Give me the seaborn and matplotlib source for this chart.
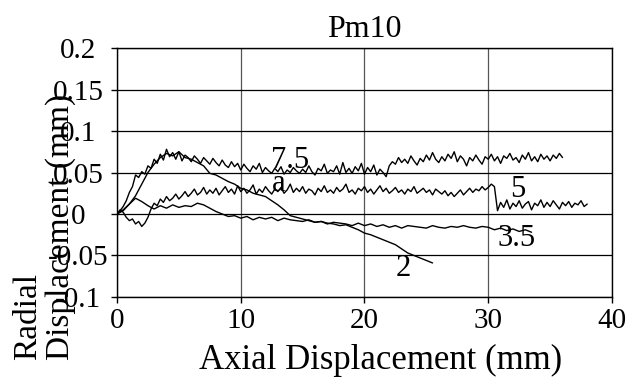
import numpy as np
import pandas as pd
import seaborn as sns
import matplotlib.pyplot as plt

# curves 7.5 and 5 read at x step 0.25 mm, curves 3.5 and 2 at 0.5 mm, from x = 0
y_75 = [0.000, 0.004, 0.009, 0.016, 0.026, 0.033, 0.047, 0.044, 0.051, 0.048,
        0.058, 0.055, 0.066, 0.061, 0.072, 0.065, 0.078, 0.069, 0.074, 0.066,
        0.075, 0.064, 0.071, 0.068, 0.063, 0.070, 0.066, 0.061, 0.068, 0.064,
        0.060, 0.067, 0.062, 0.058, 0.065, 0.059, 0.056, 0.063, 0.057, 0.061,
        0.053, 0.060, 0.055, 0.051, 0.058, 0.054, 0.061, 0.050, 0.056, 0.052,
        0.049, 0.055, 0.051, 0.057, 0.048, 0.053, 0.050, 0.056, 0.052, 0.049,
        0.054, 0.050, 0.058, 0.051, 0.047, 0.055, 0.052, 0.060, 0.049, 0.053,
        0.051, 0.058, 0.048, 0.062, 0.050, 0.055, 0.049, 0.057, 0.052, 0.061,
        0.048, 0.056, 0.051, 0.059, 0.047, 0.054, 0.050, 0.045, 0.058, 0.063,
        0.060, 0.068, 0.062, 0.066, 0.061, 0.070, 0.064, 0.059, 0.067, 0.063,
        0.071, 0.065, 0.074, 0.066, 0.062, 0.069, 0.064, 0.072, 0.067, 0.075,
        0.063, 0.070, 0.066, 0.058, 0.068, 0.064, 0.071, 0.065, 0.060, 0.069,
        0.066, 0.072, 0.064, 0.069, 0.061, 0.070, 0.067, 0.073, 0.065, 0.068,
        0.062, 0.071, 0.066, 0.074, 0.064, 0.069, 0.063, 0.072, 0.066, 0.070,
        0.064, 0.071, 0.067, 0.073, 0.068]

y_5 = [0.000, 0.005, 0.002, -0.004, -0.008, -0.006, -0.012, -0.009, -0.015, -0.011,
       -0.004, 0.006, 0.013, 0.010, 0.018, 0.014, 0.021, 0.016, 0.019, 0.024,
       0.018, 0.022, 0.027, 0.021, 0.025, 0.030, 0.023, 0.026, 0.032, 0.024,
       0.029, 0.025, 0.031, 0.023, 0.028, 0.033, 0.026, 0.030, 0.024, 0.034,
       0.027, 0.031, 0.025, 0.029, 0.035, 0.024, 0.030, 0.026, 0.033, 0.028,
       0.024, 0.030, 0.027, 0.032, 0.025, 0.029, 0.036, 0.026, 0.031, 0.027,
       0.033, 0.025, 0.030, 0.028, 0.023, 0.031, 0.027, 0.034, 0.026, 0.029,
       0.025, 0.032, 0.027, 0.030, 0.036, 0.026, 0.029, 0.024, 0.031, 0.028,
       0.033, 0.026, 0.030, 0.024, 0.029, 0.034, 0.027, 0.031, 0.025, 0.028,
       0.032, 0.026, 0.029, 0.024, 0.030, 0.027, 0.033, 0.025, 0.028, 0.031,
       0.026, 0.029, 0.023, 0.030, 0.027, 0.024, 0.028, 0.022, 0.026, 0.021,
       0.025, 0.029, 0.023, 0.027, 0.031, 0.026, 0.030, 0.028, 0.033, 0.029,
       0.032, 0.036, 0.033, 0.004, 0.014, 0.008, 0.017, 0.006, 0.013, 0.009,
       0.016, 0.007, 0.012, 0.015, 0.005, 0.013, 0.010, 0.017, 0.008, 0.014,
       0.009, 0.016, 0.011, 0.006, 0.014, 0.010, 0.015, 0.008, 0.013, 0.011,
       0.016, 0.009, 0.012]

y_35 = [0.000, 0.005, 0.012, 0.019, 0.015, 0.010, 0.006, 0.010, 0.007, 0.011,
        0.008, 0.010, 0.009, 0.013, 0.011, 0.007, 0.003, 0.000, -0.003, -0.002,
        -0.005, -0.003, -0.007, -0.004, -0.006, -0.004, -0.008, -0.005, -0.007, -0.008,
        -0.009, -0.007, -0.010, -0.009, -0.012, -0.010, -0.011, -0.012, -0.014, -0.011,
        -0.014, -0.012, -0.015, -0.013, -0.016, -0.014, -0.017, -0.014, -0.015, -0.016,
        -0.017, -0.014, -0.016, -0.017, -0.015, -0.016, -0.014, -0.016, -0.017, -0.015,
        -0.016, -0.019, -0.017, -0.020, -0.018, -0.021, -0.019, -0.022]

y_2 = [0.000, 0.004, 0.012, 0.022, 0.036, 0.050, 0.060, 0.068, 0.073, 0.070,
       0.075, 0.068, 0.066, 0.062, 0.058, 0.049, 0.047, 0.043, 0.039, 0.036,
       0.031, 0.029, 0.025, 0.023, 0.021, 0.016, 0.011, 0.005, -0.002, -0.004,
       -0.006, -0.008, -0.010, -0.009, -0.011, -0.012, -0.014, -0.013, -0.016, -0.019,
       -0.023, -0.025, -0.028, -0.031, -0.034, -0.037, -0.042, -0.047, -0.050, -0.053,
       -0.056, -0.059]

curves = {'7.5': (y_75, 0.25), '5': (y_5, 0.25), '3.5': (y_35, 0.5), '2': (y_2, 0.5)}

# curve labels: text, x, y
labels = [('7.5', 14.0, 0.064), ('a', 13.1, 0.037), ('5', 32.4, 0.029),
          ('3.5', 32.3, -0.029), ('2', 23.1, -0.066)]

sns.set_style('white')
plt.rcParams['font.family'] = ['Liberation Serif', 'DejaVu Serif']
plt.rcParams['axes.unicode_minus'] = False
plt.rcParams['text.color'] = 'black'
plt.rcParams['axes.labelcolor'] = 'black'
plt.rcParams['xtick.color'] = 'black'
plt.rcParams['ytick.color'] = 'black'

fig = plt.figure(figsize=(6.28, 3.78), dpi=100)
ax = fig.add_axes([0.1863, 0.2143, 0.7882, 0.6587])

for name, (ys, step) in curves.items():
    xs = np.arange(len(ys)) * step
    df = pd.DataFrame({'x': xs, 'y': ys})
    sns.lineplot(data=df, x='x', y='y', ax=ax, color='black', lw=1.0,
                 estimator=None, sort=False)

for txt, lx, ly in labels:
    ax.text(lx, ly, txt, fontsize=22, ha='center', va='center')

ax.set_xlim(0, 40)
ax.set_ylim(-0.1, 0.2)
ax.set_xticks([0, 10, 20, 30, 40])
ax.set_yticks([-0.1, -0.05, 0, 0.05, 0.1, 0.15, 0.2])
ax.set_yticklabels(['-0.1', '-0.05', '0', '0.05', '0.1', '0.15', '0.2'])

ax.yaxis.grid(True, color='black', lw=0.9)
ax.xaxis.grid(True, color='#555555', lw=0.9)
for s in ax.spines.values():
    s.set_color('black')
    s.set_linewidth(1.0)

ax.tick_params(axis='both', direction='out', length=4, width=1, color='black',
               labelsize=21, left=True, bottom=True)
ax.tick_params(axis='x', pad=4)
ax.tick_params(axis='y', pad=24)
for lab in ax.get_yticklabels():
    lab.set_horizontalalignment('center')

ax.set_xlabel('Axial Displacement (mm)', fontsize=25)
ax.xaxis.set_label_coords(0.533, -0.19)
ax.set_ylabel('')
ax.set_title('Pm10', fontsize=23, pad=8)

fig.text(44 / 628, 18 / 378, 'Radial\nDisplacement (mm)', rotation=90,
         fontsize=24, ha='center', va='bottom', multialignment='left',
         linespacing=1.1)

fig.savefig('out.png', dpi=100)
